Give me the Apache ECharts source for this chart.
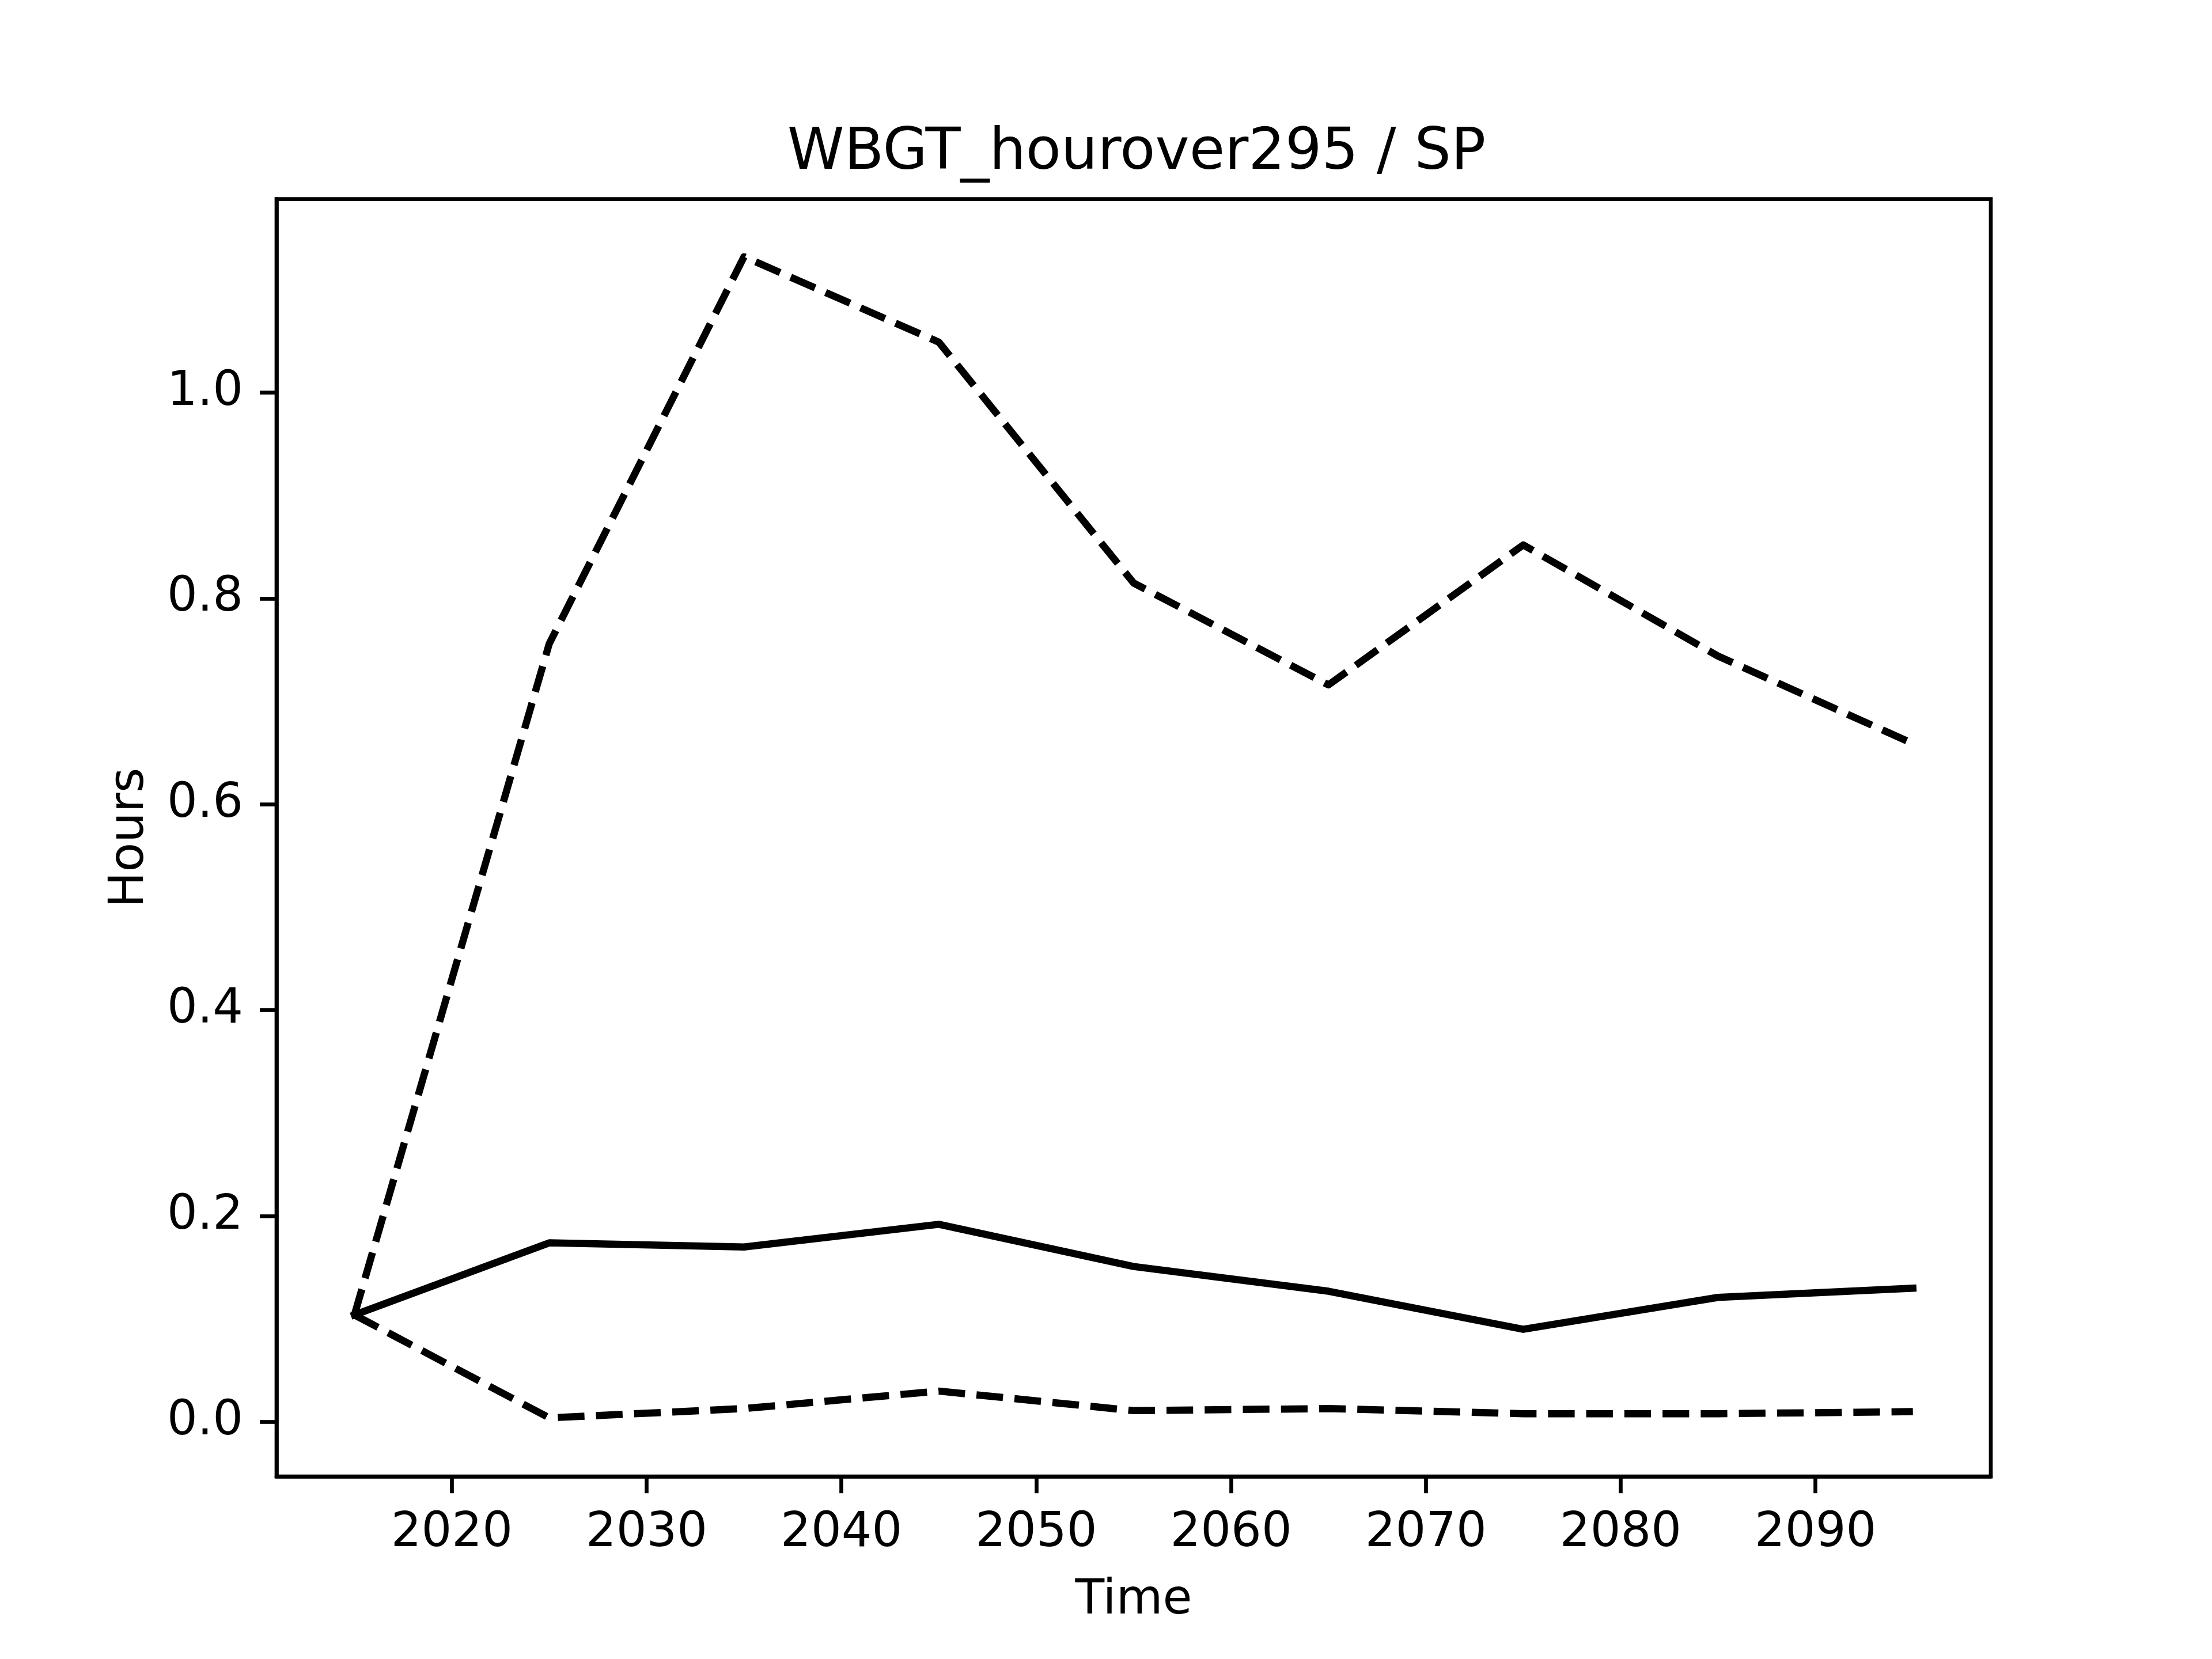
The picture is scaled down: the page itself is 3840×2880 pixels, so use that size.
<!DOCTYPE html>
<html>
<head>
<meta charset="utf-8">
<script src="https://cdn.jsdelivr.net/npm/echarts@6/dist/echarts.min.js"></script>
<style>
html,body{margin:0;padding:0;background:#fff;}
#chart{width:3840px;height:2880px;}
</style>
</head>
<body>
<div id="chart"></div>
<script>
// ---- data ----
var years = [2015, 2025, 2035, 2045, 2055, 2065, 2075, 2085, 2095];
var median = [0.104, 0.174, 0.170, 0.192, 0.151, 0.127, 0.090, 0.121, 0.130];
var upper  = [0.104, 0.756, 1.132, 1.049, 0.815, 0.716, 0.852, 0.744, 0.659];
var lower  = [0.104, 0.004, 0.013, 0.030, 0.011, 0.013, 0.008, 0.008, 0.010];
var xTicks = [2020, 2030, 2040, 2050, 2060, 2070, 2080, 2090];
var yTicks = [0.0, 0.2, 0.4, 0.6, 0.8, 1.0];
var titleText = 'WBGT_hourover295 / SP';
var xName = 'Time';
var yName = 'Hours';

function pairs(v) { return years.map(function (y, i) { return [y, v[i]]; }); }

var FONT = 'DejaVu Sans';
var LW = 12.5;
var chart = echarts.init(document.getElementById('chart'), null, {renderer: 'canvas'});
chart.setOption({
  animation: false,
  backgroundColor: '#ffffff',
  title: {
    text: titleText,
    left: 1968,
    textAlign: 'center',
    top: 212,
    textStyle: {fontFamily: FONT, fontSize: 100, fontWeight: 'normal', color: '#000'}
  },
  grid: {
    left: 480, right: 384, top: 345.6, bottom: 316.8,
    show: true, borderColor: '#000', borderWidth: 6.67, backgroundColor: 'transparent',
    containLabel: false
  },
  xAxis: {
    type: 'value', min: 2011, max: 2099,
    name: xName, nameLocation: 'middle', nameGap: 175,
    nameTextStyle: {fontFamily: FONT, fontSize: 83, color: '#000'},
    axisLine: {show: true, onZero: false, lineStyle: {color: '#000', width: 6.67}},
    axisTick: {show: true, length: 29, lineStyle: {color: '#000', width: 6.67}, customValues: xTicks},
    axisLabel: {show: true, margin: 58, fontFamily: FONT, fontSize: 83, color: '#000', customValues: xTicks,
      formatter: function (v) { return String(v); }},
    splitLine: {show: false}
  },
  yAxis: {
    type: 'value', min: -0.053, max: 1.188,
    name: yName, nameLocation: 'middle', nameGap: 212,
    nameTextStyle: {fontFamily: FONT, fontSize: 83, color: '#000'},
    axisLine: {show: true, onZero: false, lineStyle: {color: '#000', width: 6.67}},
    axisTick: {show: true, length: 29, lineStyle: {color: '#000', width: 6.67}, customValues: yTicks},
    axisLabel: {show: true, margin: 58, fontFamily: FONT, fontSize: 83, color: '#000', customValues: yTicks,
      formatter: function (v) { return v.toFixed(1); }},
    splitLine: {show: false}
  },
  series: [
    {type: 'line', data: pairs(median), symbol: 'none', showSymbol: false,
      lineStyle: {color: '#000', width: LW, type: 'solid', cap: 'square', join: 'round'}},
    {type: 'line', data: pairs(upper), symbol: 'none', showSymbol: false,
      lineStyle: {color: '#000', width: LW, type: [46.25, 20], cap: 'butt', join: 'round'}},
    {type: 'line', data: pairs(lower), symbol: 'none', showSymbol: false,
      lineStyle: {color: '#000', width: LW, type: [46.25, 20], cap: 'butt', join: 'round'}}
  ]
});
</script>
</body>
</html>
